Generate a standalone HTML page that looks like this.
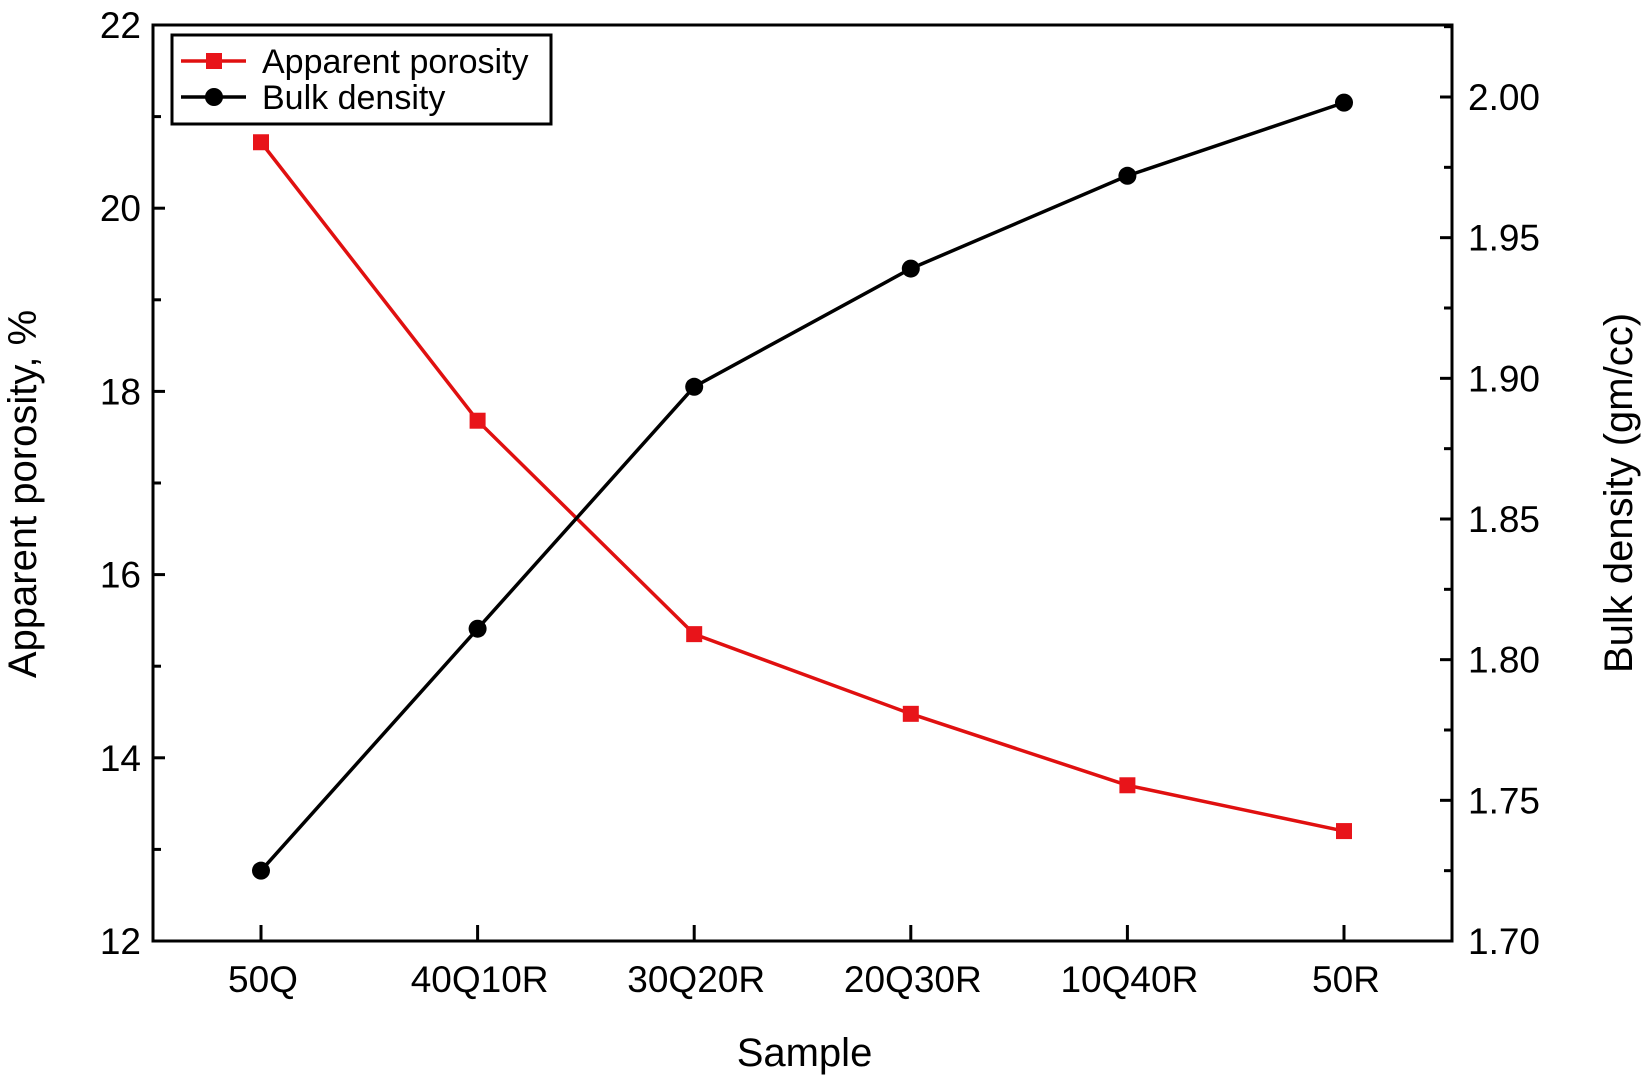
<!DOCTYPE html>
<html><head><meta charset="utf-8"><style>
html,body{margin:0;padding:0;background:#fff;}
svg text{font-family:"Liberation Sans",Arial,sans-serif;fill:#000;}
</style></head><body>
<svg id="chart" width="1644" height="1081" xmlns="http://www.w3.org/2000/svg"></svg>
<script>
const categories = ["50Q","40Q10R","30Q20R","20Q30R","10Q40R","50R"];
const porosity = [20.72, 17.68, 15.35, 14.48, 13.70, 13.20];
const density = [1.725, 1.811, 1.897, 1.939, 1.972, 1.998];
const leftTicks = [12,14,16,18,20,22];
const rightTicks = ["1.70","1.75","1.80","1.85","1.90","1.95","2.00"];

const NS="http://www.w3.org/2000/svg";
const svg=document.getElementById('chart');
const L=153,R=1452,T=25,B=941;
const x0=261,x1=1344;
function xS(i){return x0+(x1-x0)*i/(categories.length-1);}
function yL(v){return B-(v-12)/(22-12)*(B-T);}
const rMin=1.70, rPerPx=0.3/844;
function yR(v){return B-(v-rMin)/rPerPx;}
function el(tag,attrs,parent){const e=document.createElementNS(NS,tag);for(const k in attrs)e.setAttribute(k,attrs[k]);(parent||svg).appendChild(e);return e;}

const frame=el('rect',{x:L,y:T,width:R-L,height:B-T,fill:'none',stroke:'#000','stroke-width':3});



leftTicks.forEach((v,i)=>{
  const y=yL(v);
  const t=el('line',{x1:L,x2:L+12,y1:y,y2:y,stroke:'#000','stroke-width':3});
  
  
  if(i<leftTicks.length-1){const ym=yL(v+1);el('line',{x1:L,x2:L+8,y1:ym,y2:ym,stroke:'#000','stroke-width':3});}
  const tx=el('text',{x:L-12,y:y+13,'font-size':37,'text-anchor':'end'});
  tx.textContent=v;
  
  
});
rightTicks.forEach((s,i)=>{
  const v=parseFloat(s);const y=yR(v);
  const t=el('line',{x1:R-12,x2:R,y1:y,y2:y,stroke:'#000','stroke-width':3});
  
  
  const ym=yR(v+0.025);el('line',{x1:R-8,x2:R,y1:ym,y2:ym,stroke:'#000','stroke-width':3});
  const tx=el('text',{x:R+16,y:y+13,'font-size':37});
  tx.textContent=s;
  
  
});
categories.forEach((c,i)=>{
  const x=xS(i);
  const t=el('line',{x1:x,x2:x,y1:B,y2:B-16,stroke:'#000','stroke-width':3});
  
  
  const tx=el('text',{x:x+2,y:B+51,'font-size':37,'text-anchor':'middle'});
  tx.textContent=c;
  
  
});
let tt=el('text',{x:(L+R)/2+2,y:1066,'font-size':40,'text-anchor':'middle'});tt.textContent='Sample';


tt=el('text',{x:0,y:0,'font-size':40,'text-anchor':'middle',transform:'translate(36,494) rotate(-90)'});tt.textContent='Apparent porosity, %';


tt=el('text',{x:0,y:0,'font-size':40,'text-anchor':'middle',transform:'translate(1632,493) rotate(-90)'});tt.textContent='Bulk density (gm/cc)';



const pl=el('polyline',{points:porosity.map((v,i)=>xS(i)+','+yL(v)).join(' '),fill:'none',stroke:'#e01010','stroke-width':3.5});


const dl=el('polyline',{points:density.map((v,i)=>xS(i)+','+yR(v)).join(' '),fill:'none',stroke:'#000','stroke-width':3.5});


porosity.forEach((v,i)=>{
  const m=el('rect',{x:xS(i)-8,y:yL(v)-8,width:16,height:16,fill:'#e8141a'});
  
  
});
density.forEach((v,i)=>{
  const m=el('circle',{cx:xS(i),cy:yR(v),r:9,fill:'#000'});
  
  
});

const lg=el('g',{});


el('rect',{x:172,y:35,width:379,height:89,fill:'#fff',stroke:'#000','stroke-width':3},lg);
const e1=el('g',{},lg);


el('line',{x1:181,x2:246,y1:61,y2:61,stroke:'#e01010','stroke-width':3.5},e1);
el('rect',{x:206,y:53,width:16,height:16,fill:'#e8141a'},e1);
let lt=el('text',{x:262,y:73,'font-size':34},e1);lt.textContent='Apparent porosity';
const e2=el('g',{},lg);


el('line',{x1:181,x2:246,y1:97,y2:97,stroke:'#000','stroke-width':3.5},e2);
el('circle',{cx:214,cy:97,r:9,fill:'#000'},e2);
lt=el('text',{x:262,y:109,'font-size':34},e2);lt.textContent='Bulk density';
</script>
</body></html>
